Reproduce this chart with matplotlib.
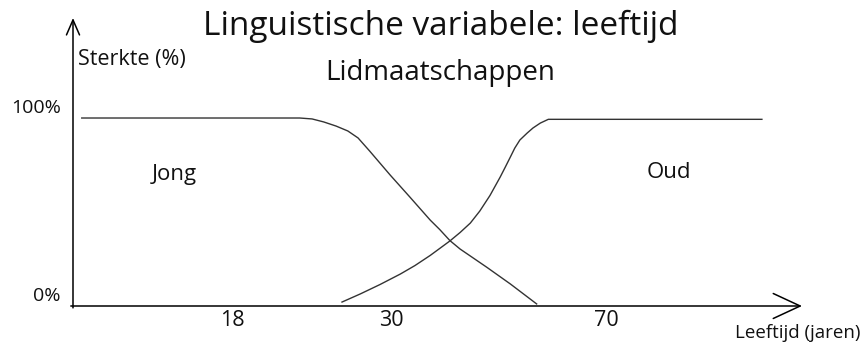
"""
Lidmaatschapsfuncties voor de linguistische variabele 'leeftijd'
Tekent de curves Jong en Oud en slaat de figuur op als out.png
"""

import matplotlib
matplotlib.use('Agg')
import matplotlib.pyplot as plt

# Data (x: positie op de as 0-100, y: sterkte in %)
jong_x = [1.2, 31.1, 32.8, 34.4, 36.1, 37.7, 39.1, 40.7, 43.5, 46.2, 49.0,
          50.3, 51.7, 53.1, 54.5, 56.8, 60.0, 63.6]
jong_y = [100, 100, 99.5, 97.9, 95.7, 93.1, 89.4, 82.4, 69.7, 58.0, 45.7,
          40.7, 34.8, 30.3, 26.6, 20.5, 11.7, 1.1]

oud_x = [36.9, 39.4, 42.1, 44.9, 46.9, 49.0, 50.3, 51.7, 53.1, 54.5, 55.8,
         57.2, 58.6, 59.3, 60.0, 60.6, 61.3, 62.3, 63.1, 64.1, 65.2, 94.5]
oud_y = [2.1, 6.4, 11.4, 17.0, 21.5, 26.9, 30.6, 34.6, 39.1, 44.1, 50.5,
         58.8, 68.6, 73.9, 79.3, 84.0, 88.3, 92.0, 94.7, 97.3, 99.3, 99.3]

tick_pos = [21.9, 43.7, 73.2]
tick_labels = ['18', '30', '70']

W, H = 865, 342


def fx(px):
    return px / W


def fy(py):
    return 1 - py / H


plt.rcParams['font.family'] = ['Open Sans', 'DejaVu Sans']
txt = '#111111'

fig = plt.figure(figsize=(8.65, 3.42), dpi=100)
ax = fig.add_axes([fx(73), fy(306), fx(802 - 73), (306 - 18) / H])
ax.set_xlim(0, 100)
ax.set_ylim(0, 153.2)
for s in ax.spines.values():
    s.set_visible(False)
ax.set_yticks([])

# assen met pijlen
ax.annotate('', xy=(100, 0), xytext=(-0.3, 0), annotation_clip=False,
            arrowprops=dict(arrowstyle='->,head_length=1.94,head_width=0.9',
                            lw=1.1, color='black', shrinkA=0, shrinkB=0))
ax.annotate('', xy=(0, 153.2), xytext=(0, -1), annotation_clip=False,
            arrowprops=dict(arrowstyle='->,head_length=1.08,head_width=0.47',
                            lw=1.1, color='black', shrinkA=0, shrinkB=0))

# curves
ax.plot(jong_x, jong_y, color='#333333', lw=1.0, clip_on=False)
ax.plot(oud_x, oud_y, color='#333333', lw=1.0, clip_on=False)

ax.set_xticks(tick_pos, tick_labels, fontsize=15.5, color=txt)
ax.tick_params(axis='x', length=0, pad=3)

ax.text(-1.65, 105.3, '100%', ha='right', va='center', fontsize=14, color=txt)
ax.text(-1.65, 5.3, '0%', ha='right', va='center', fontsize=14, color=txt)

# teksten
fig.text(fx(441), fy(35), 'Linguistische variabele: leeftijd', ha='center',
         va='baseline', fontsize=24, color=txt)
fig.text(fx(440.5), fy(80), 'Lidmaatschappen', ha='center', va='baseline',
         fontsize=20, color=txt)
fig.text(fx(78), fy(65), 'Sterkte (%)', ha='left', va='baseline',
         fontsize=15.5, color=txt)
fig.text(fx(152), fy(180), 'Jong', ha='left', va='baseline',
         fontsize=16, color=txt)
fig.text(fx(647), fy(178), 'Oud', ha='left', va='baseline',
         fontsize=16, color=txt)
fig.text(fx(735), fy(338), 'Leeftijd (jaren)', ha='left', va='baseline',
         fontsize=13.5, color=txt)

fig.savefig('out.png', dpi=100)
